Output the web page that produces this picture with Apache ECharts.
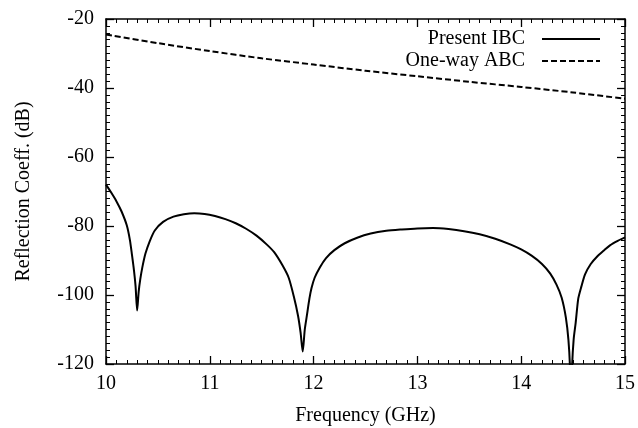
<!DOCTYPE html>
<html>
<head>
<meta charset="utf-8">
<script src="https://cdn.jsdelivr.net/npm/echarts@6/dist/echarts.min.js"></script>
<style>html,body{margin:0;padding:0;background:#fff;}#c{width:638px;height:428px;}</style>
</head>
<body>
<div id="c"></div>
<script>
// Data
const ibcFreq = [10.00, 10.05, 10.10, 10.15, 10.20, 10.23, 10.25, 10.27, 10.285, 10.30, 10.315, 10.33, 10.35, 10.38, 10.42, 10.47, 10.55, 10.65, 10.75, 10.85, 10.95, 11.05, 11.15, 11.25, 11.35, 11.45, 11.55, 11.62, 11.70, 11.76, 11.81, 11.85, 11.875, 11.895, 11.915, 11.935, 11.96, 11.98, 12.01, 12.06, 12.12, 12.20, 12.30, 12.42, 12.55, 12.70, 12.85, 13.00, 13.15, 13.30, 13.45, 13.60, 13.75, 13.90, 14.00, 14.10, 14.20, 14.28, 14.34, 14.39, 14.43, 14.455, 14.47, 14.48, 14.49, 14.505, 14.525, 14.55, 14.58, 14.615, 14.67, 14.73, 14.80, 14.855, 14.93, 15.00];
const ibcVals = [-68, -70.3, -72.8, -75.8, -79.8, -84, -88.3, -93, -97.5, -104.5, -99, -95.5, -92, -88, -84.5, -81.3, -78.8, -77.3, -76.6, -76.3, -76.5, -77.1, -78, -79.2, -80.8, -82.8, -85.4, -87.6, -91.4, -95, -100.5, -106, -111, -116.4, -110, -106, -101, -98, -95, -92, -89.3, -87, -85, -83.4, -82.2, -81.4, -81, -80.7, -80.6, -80.9, -81.5, -82.4, -83.7, -85.4, -86.8, -88.6, -91, -93.8, -97, -100.8, -106.5, -113, -121, -135, -121, -113, -108, -101, -97.5, -94, -91, -88.9, -87, -85.6, -84.3, -83.3];
const abcFreq = [10, 10.5, 11, 11.5, 12, 12.5, 13, 13.5, 14, 14.5, 15];
const abcVals = [-24.5, -27, -29.3, -31.4, -33.2, -35, -36.6, -38.2, -39.7, -41.3, -43.1];
const xTicks = {min: 10, max: 15, interval: 1};
const yTicks = {min: -120, max: -20, interval: 20};
const names = ['Present IBC', 'One-way ABC'];

const font = 'Liberation Serif';
const fs = 20;
const chart = echarts.init(document.getElementById('c'), null, {renderer: 'canvas'});
const axisLine = {show: true, onZero: false, lineStyle: {color: '#000', width: 1.5}};
const tick = {show: true, inside: true, length: 8, lineStyle: {color: '#000', width: 1.3}};
const minor = {show: true, splitNumber: 10, length: 4, lineStyle: {color: '#000', width: 1}};
const label = {color: '#000', fontFamily: font, fontSize: fs};
const legendText = {color: '#000', fontFamily: font, fontSize: fs, padding: [0, 12, 0, 0]};

chart.setOption({
  animation: false,
  backgroundColor: '#fff',
  grid: {left: 106, top: 19, right: 13, bottom: 64, containLabel: false, outerBoundsMode: 'none'},
  xAxis: [
    {type: 'value', min: xTicks.min, max: xTicks.max, interval: xTicks.interval, position: 'bottom',
     axisLine, axisTick: tick, minorTick: minor, splitLine: {show: false},
     axisLabel: Object.assign({margin: 10}, label),
     name: 'Frequency (GHz)', nameLocation: 'middle', nameGap: 42,
     nameTextStyle: {color: '#000', fontFamily: font, fontSize: fs}},
    {type: 'value', min: xTicks.min, max: xTicks.max, interval: xTicks.interval, position: 'top',
     axisLine, axisTick: tick, minorTick: minor, splitLine: {show: false}, axisLabel: {show: false}}
  ],
  yAxis: [
    {type: 'value', min: yTicks.min, max: yTicks.max, interval: yTicks.interval, position: 'left',
     axisLine, axisTick: tick, minorTick: minor, splitLine: {show: false},
     axisLabel: Object.assign({margin: 12}, label),
     name: 'Reflection Coeff. (dB)', nameLocation: 'middle', nameGap: 72, nameRotate: 90,
     nameTextStyle: {color: '#000', fontFamily: font, fontSize: fs}},
    {type: 'value', min: yTicks.min, max: yTicks.max, interval: yTicks.interval, position: 'right',
     axisLine, axisTick: tick, minorTick: minor, splitLine: {show: false}, axisLabel: {show: false}}
  ],
  legend: [
    {data: [names[0]], right: 32, top: 24, align: 'right', itemWidth: 58, itemHeight: 10, itemGap: 10,
     itemStyle: {opacity: 0}, textStyle: legendText},
    {data: [names[1]], right: 32, top: 46, align: 'right', itemWidth: 58, itemHeight: 10, itemGap: 10,
     itemStyle: {opacity: 0}, textStyle: legendText}
  ],
  series: [
    {name: names[0], type: 'line', xAxisIndex: 0, yAxisIndex: 0, symbol: 'none', clip: true,
     smooth: 0.25,
     lineStyle: {color: '#000', width: 2}, itemStyle: {color: '#000'},
     data: ibcFreq.map((f, i) => [f, ibcVals[i]])},
    {name: names[1], type: 'line', xAxisIndex: 0, yAxisIndex: 0, symbol: 'none', clip: true,
     smooth: 0.3,
     lineStyle: {color: '#000', width: 2, type: [6, 3]}, itemStyle: {color: '#000'},
     data: abcFreq.map((f, i) => [f, abcVals[i]])}
  ]
});
</script>
</body>
</html>
